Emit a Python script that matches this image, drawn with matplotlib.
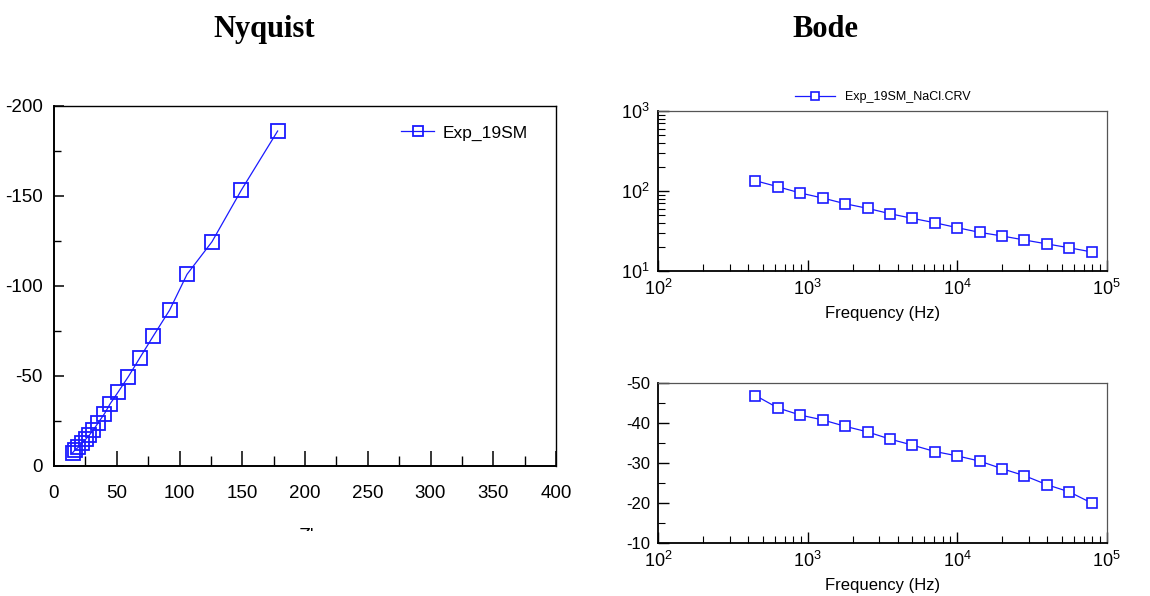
import matplotlib
matplotlib.use("Agg")
import matplotlib.pyplot as plt
from matplotlib.ticker import MultipleLocator, LogLocator, FixedLocator, NullFormatter
from matplotlib.transforms import Bbox

plt.rcParams['font.family'] = ['Liberation Sans', 'DejaVu Sans']
plt.rcParams['mathtext.fontset'] = 'custom'
plt.rcParams['mathtext.rm'] = 'Liberation Sans'
plt.rcParams['mathtext.it'] = 'Liberation Sans:italic'
plt.rcParams['mathtext.default'] = 'regular'
plt.rcParams['axes.unicode_minus'] = False

# ---------------- data ----------------
nyq_zre = [14.9, 16.7, 19.4, 22.0, 25.2, 28.2, 31.3, 35.3, 40.1, 44.6,
           51.3, 59.2, 68.5, 79.1, 92.2, 106.0, 125.9, 149.3, 178.2]
nyq_zim = [-7.4, -8.9, -10.4, -12.6, -14.8, -17.2, -20.0, -24.1, -28.9, -34.4,
           -41.3, -49.6, -60.2, -72.2, -86.7, -106.5, -124.6, -153.3, -186.1]
nyq_label = "Exp_19SM"

bode_freq = [446, 631, 891, 1259, 1778, 2512, 3548, 5012, 7079, 10000,
             14125, 19953, 28184, 39811, 56234, 79433]
bode_mag = [134.5, 113.0, 94.4, 81.7, 69.3, 60.7, 52.0, 45.5, 40.1, 34.8,
            30.4, 27.4, 24.4, 21.8, 19.5, 17.3]
bode_phase = [-46.8, -43.7, -41.9, -40.7, -39.1, -37.7, -35.9, -34.4, -32.8, -31.7,
              -30.4, -28.5, -26.75, -24.5, -22.7, -19.9]
bode_label = "Exp_19SM_NaCl.CRV"

nyq_xticks = [0, 50, 100, 150, 200, 250, 300, 350, 400]
nyq_yticks = [0, -50, -100, -150, -200]
phase_yticks = [-10, -20, -30, -40, -50]

BLUE = '#1a1aff'
W, H = 1150, 596
fig = plt.figure(figsize=(W / 100, H / 100), dpi=100)

def fx(px):
    return px / W

def fy(py):
    return 1 - py / H

# ---------------- titles ----------------
fig.text(fx(264), fy(37), "Nyquist", family='Liberation Serif', weight='bold',
         fontsize=22, ha='center', va='baseline')
fig.text(fx(825), fy(37), "Bode", family='Liberation Serif', weight='bold',
         fontsize=22, ha='center', va='baseline')

# ---------------- Nyquist ----------------
axN = fig.add_axes([fx(54), fy(466), fx(502), (466 - 106) / H])
axN.plot(nyq_zre, nyq_zim, color=BLUE, lw=0.9, marker='s', ms=9.5,
         mfc='none', mec=BLUE, mew=1.3, label=nyq_label)
axN.set_xlim(0, 400)
axN.set_ylim(0, -200)
axN.xaxis.set_major_locator(FixedLocator(nyq_xticks))
axN.xaxis.set_minor_locator(MultipleLocator(25))
axN.yaxis.set_major_locator(FixedLocator(nyq_yticks))
axN.yaxis.set_minor_locator(MultipleLocator(25))
axN.tick_params(axis='x', which='major', direction='in', length=11, width=1.1, pad=14,
                labelsize=13.5)
axN.tick_params(axis='x', which='minor', direction='in', length=7, width=1.0)
axN.tick_params(axis='y', which='major', direction='in', length=7, width=1.1, pad=8,
                labelsize=13.5)
axN.tick_params(axis='y', which='minor', direction='in', length=5, width=1.0)
for s in ['left', 'bottom']:
    axN.spines[s].set_linewidth(1.4)
for s in ['top', 'right']:
    axN.spines[s].set_linewidth(1.0)
axN.legend(loc='upper right', frameon=False, handlelength=1.9,
           handletextpad=0.5, bbox_to_anchor=(0.975, 0.99),
           prop={'size': 12.5}, markerscale=0.75)

# clipped Z' label fragment
t = fig.text(fx(306), fy(541), "Z'", fontsize=14, ha='center', va='baseline')
t.set_clip_box(Bbox([[0, H - 531], [W, H]]))
t.set_clip_on(True)

# ---------------- Bode ----------------
def style_bode(ax):
    ax.set_xscale('log')
    ax.set_xlim(1e2, 1e5)
    ax.xaxis.set_major_locator(LogLocator(base=10, numticks=10))
    ax.xaxis.set_minor_locator(LogLocator(base=10, subs=range(2, 10), numticks=20))
    ax.xaxis.set_minor_formatter(NullFormatter())
    ax.tick_params(axis='x', which='major', direction='in', length=8, width=1.0,
                   pad=6, labelsize=13, top=False)
    ax.tick_params(axis='x', which='minor', direction='in', length=5, width=0.8, top=False)
    ax.tick_params(axis='y', which='major', direction='in', length=8, width=1.0,
                   pad=6, labelsize=12, right=False)
    ax.tick_params(axis='y', which='minor', direction='in', length=5, width=0.8, right=False)
    for s in ['left', 'bottom']:
        ax.spines[s].set_linewidth(1.3)
    for s in ['top', 'right']:
        ax.spines[s].set_linewidth(0.9)
        ax.spines[s].set_color('#555555')
    ax.set_xlabel("Frequency (Hz)", fontsize=12, labelpad=5)

axM = fig.add_axes([fx(658.3), fy(271), fx(448.4), 160 / H])
axM.plot(bode_freq, bode_mag, color=BLUE, lw=0.9, marker='s', ms=7.5,
         mfc='white', mec=BLUE, mew=1.2, label=bode_label)
axM.set_yscale('log')
axM.set_ylim(10, 1000)
axM.yaxis.set_major_locator(LogLocator(base=10, numticks=10))
axM.yaxis.set_minor_locator(LogLocator(base=10, subs=range(2, 10), numticks=20))
axM.yaxis.set_minor_formatter(NullFormatter())
style_bode(axM)
axM.tick_params(axis='y', which='major', labelsize=13)
axM.legend(loc='lower center', bbox_to_anchor=(0.5, 1.0), frameon=False,
           fontsize=9, handlelength=3.2, handletextpad=0.8, borderaxespad=0.2,
           markerscale=0.85)
fig.text(fx(626), fy(192), ":", fontsize=5, color='#555555', ha='center', va='center')

axP = fig.add_axes([fx(658.3), fy(542.7), fx(448.4), 160 / H])
axP.plot(bode_freq, bode_phase, color=BLUE, lw=0.9, marker='s', ms=7.5,
         mfc='white', mec=BLUE, mew=1.2)
axP.set_ylim(-10, -50)
axP.yaxis.set_major_locator(FixedLocator(phase_yticks))
axP.yaxis.set_minor_locator(MultipleLocator(5))
style_bode(axP)

fig.savefig("out.png", dpi=100)
